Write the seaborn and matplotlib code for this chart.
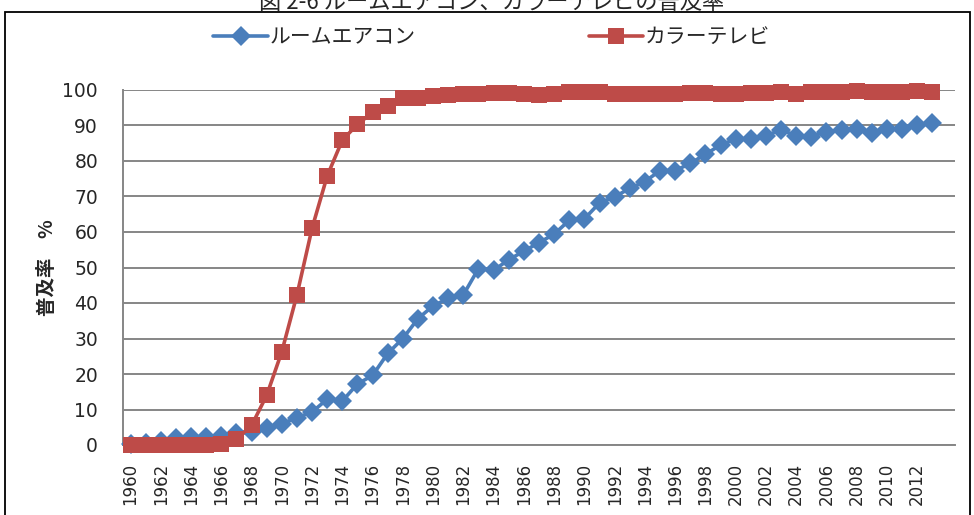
import numpy as np
import pandas as pd
import matplotlib
matplotlib.use("Agg")
import matplotlib.pyplot as plt
import matplotlib.patches as patches
import seaborn as sns

years = list(range(1960, 2014))

aircon = [0.4, 0.6, 1.0, 1.9, 2.2, 2.3, 2.5, 3.5, 3.6, 4.7,
          6.0, 7.7, 9.3, 12.9, 12.4, 17.2, 19.6, 25.8, 30.0, 35.6,
          39.2, 41.3, 42.3, 49.7, 49.2, 52.2, 54.6, 57.0, 59.4, 63.3,
          63.7, 68.2, 69.9, 72.3, 74.2, 77.3, 77.3, 79.3, 81.9, 84.5,
          86.2, 86.1, 87.1, 88.8, 87.1, 86.9, 88.3, 88.6, 88.9, 87.9,
          89.0, 89.1, 90.0, 90.6]

color_tv = [0.0, 0.0, 0.0, 0.0, 0.0, 0.0, 0.3, 1.6, 5.5, 14.0,
            26.3, 42.3, 61.1, 75.8, 85.9, 90.3, 93.7, 95.4, 97.7, 97.8,
            98.2, 98.5, 98.9, 98.8, 99.2, 99.1, 98.9, 98.7, 99.0, 99.3,
            99.4, 99.3, 99.0, 99.0, 99.0, 98.9, 99.0, 99.1, 99.1, 98.9,
            98.9, 99.1, 99.2, 99.3, 99.0, 99.3, 99.4, 99.4, 99.7, 99.4,
            99.3, 99.5, 99.6, 99.4]

series_names = ["ルームエアコン", "カラーテレビ"]
title = "図 2-6 ルームエアコン、カラーテレビの普及率"
ylabel = "普及率　%"

df = pd.DataFrame({
    "year": years * 2,
    "value": aircon + color_tv,
    "series": [series_names[0]] * len(years) + [series_names[1]] * len(years),
})

sns.set_style("white")
plt.rcParams['font.family'] = ['DejaVu Sans', 'Noto Sans CJK JP']
jp = ['Noto Sans CJK JP', 'DejaVu Sans']

fig = plt.figure(figsize=(9.74, 5.15), dpi=100)
ax = fig.add_axes([123 / 974, 70 / 515, 832 / 974, 355 / 515])

grid_c = "#868686"
palette = {series_names[0]: "#4A7EBB", series_names[1]: "#BE4B48"}
sns.lineplot(data=df, x="year", y="value", hue="series", style="series",
             palette=palette, markers={series_names[0]: "D", series_names[1]: "s"},
             dashes=False, linewidth=2.6, markeredgewidth=0,
             ax=ax, legend=False, zorder=3)
# bigger squares than diamonds, and let the top row spill over the frame
ax.lines[0].set_markersize(10.5)
ax.lines[1].set_markersize(12)
for ln in ax.lines:
    ln.set_clip_on(False)

ax.set_xlim(1959.5, 2014.5)
ax.set_ylim(0, 100)
ax.set_yticks(range(0, 101, 10))
ax.yaxis.grid(True, color=grid_c, linewidth=1.4)
ax.set_axisbelow(True)
for s in ["top", "right"]:
    ax.spines[s].set_visible(False)
for s in ["left", "bottom"]:
    ax.spines[s].set_color(grid_c)
    ax.spines[s].set_linewidth(1.4)

ax.set_xticks(range(1960, 2014, 2))
ax.set_xticklabels([str(y) for y in range(1960, 2014, 2)], rotation=90, fontsize=12)
ax.set_xticks(np.arange(1959.5, 2015, 1), minor=True)
ax.tick_params(axis="x", which="major", length=0, pad=13)
ax.tick_params(axis="x", which="minor", length=6, width=1.2, color=grid_c, direction="out")
ax.tick_params(axis="y", length=6, width=1.2, color=grid_c, direction="out", labelsize=13.5, pad=12)
ax.set_xlabel("")
ax.set_ylabel(ylabel, family=jp, fontsize=14, fontweight="bold", labelpad=4)

handles = ax.get_lines()[:2]
fig.legend(handles, series_names, loc="center", bbox_to_anchor=(0.505, 1 - 37 / 515),
           ncol=2, frameon=False, prop={"family": jp, "size": 15},
           columnspacing=8.3, handlelength=2.6, handletextpad=0.1)

fig.text(0.505, 1 - 9 / 515, title, ha="center", va="baseline", fontsize=16, family=jp)
fig.patches.append(patches.Rectangle((5 / 974, -0.05), 965 / 974, 1.05 - 12 / 515,
                                     transform=fig.transFigure, fill=False,
                                     edgecolor="black", linewidth=1.3))

fig.savefig("out.png", dpi=100)
